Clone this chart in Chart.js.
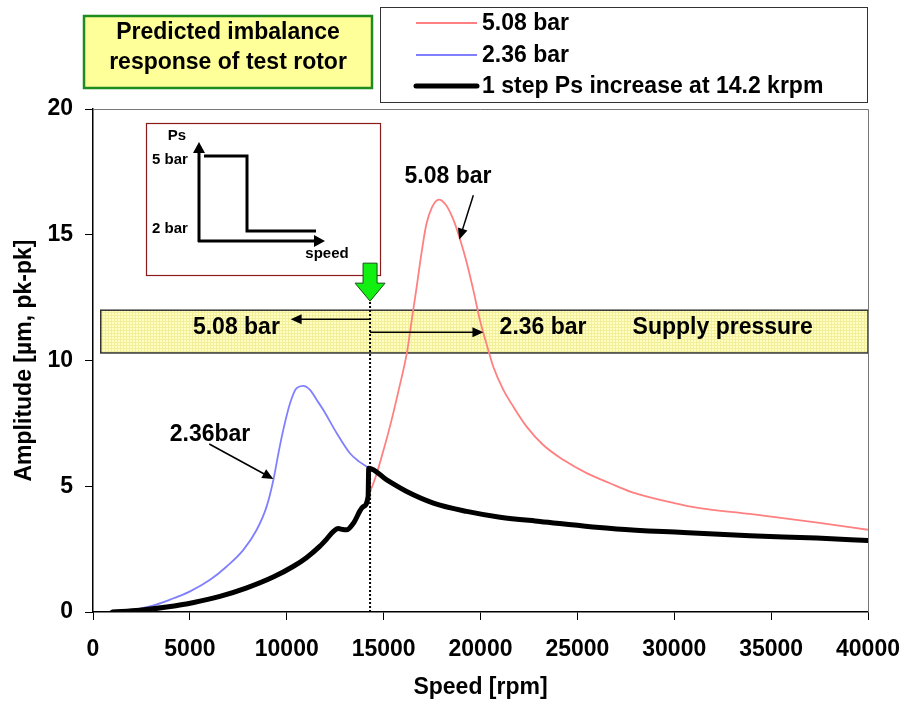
<!DOCTYPE html>
<html>
<head>
<meta charset="utf-8">
<title>Predicted imbalance response of test rotor</title>
<script src="https://cdn.jsdelivr.net/npm/chart.js@4/dist/chart.umd.min.js"></script>
<style>
    html, body { margin: 0; padding: 0; background: #fff; }
    #wrap { width: 904px; height: 704px; position: relative; }
</style>
</head>
<body>
<div id="wrap"><canvas id="rotorChart"></canvas></div>
<script>
// 5.08 bar supply pressure (red)
const redSpeed = [1000, 2400, 3800, 5200, 6550, 7900, 9300, 10350, 11000, 11700, 12060, 12400, 12660, 12900, 13090, 13440, 13950, 14200,
    14600, 15000, 15400, 15800, 16200, 16450, 16700, 16950, 17200, 17500, 17850, 18200, 18600, 18950, 19300, 19630, 19970,
    20400, 20660, 21180, 21690, 22380, 23240, 24270, 25480, 26680, 27720, 30000, 31300, 33900, 37400, 40000];
const redAmp = [0, 0.07, 0.2, 0.38, 0.62, 0.95, 1.39, 1.82, 2.15, 2.61, 2.9, 3.2, 3.32, 3.28, 3.27, 3.53, 4.19, 4.6,
    5.4, 6.45, 7.6, 8.9, 10.3, 11.6, 12.9, 14.25, 15.4, 16.1, 16.4, 16.2, 15.6, 14.8, 13.86, 12.8, 11.61,
    10.42, 9.75, 8.83, 8.17, 7.37, 6.64, 6.05, 5.52, 5.12, 4.79, 4.33, 4.13, 3.9, 3.55, 3.27];

// 2.36 bar supply pressure (blue)
const blueSpeed = [1000, 1800, 2940, 3970, 5010, 6040, 6900, 7760, 8450, 8960, 9310, 9570, 9820, 10170, 10510, 10850,
    11200, 11550, 11890, 12580, 13260, 13700, 14200, 15160, 16190, 17570, 19290, 21010, 23070, 27020, 30470, 33910, 37350, 40000];
const blueAmp = [0, 0.05, 0.22, 0.49, 0.82, 1.28, 1.81, 2.47, 3.27, 4.19, 5.25, 6.31, 7.24, 8.3, 8.9, 8.99,
    8.83, 8.43, 8.03, 7.11, 6.31, 6.0, 5.75, 5.25, 4.79, 4.33, 4.0, 3.77, 3.6, 3.3, 3.16, 3.03, 2.94, 2.84];

// 1 step Ps increase at 14.2 krpm (black)
const stepSpeed = [1000, 2400, 3800, 5200, 6550, 7900, 9300, 10350, 11000, 11700, 12060, 12400, 12660, 12900, 13090, 13440, 13950, 14200,
    14230, 15160, 16190, 17570, 19290, 21010, 23070, 27020, 30470, 33910, 37350, 40000];
const stepAmp = [0, 0.07, 0.2, 0.38, 0.62, 0.95, 1.39, 1.82, 2.15, 2.61, 2.9, 3.2, 3.32, 3.28, 3.27, 3.53, 4.19, 4.6,
    5.72, 5.25, 4.79, 4.33, 4.0, 3.77, 3.6, 3.3, 3.16, 3.03, 2.94, 2.84];

const seriesNames = ['5.08 bar', '2.36 bar', '1 step Ps increase at 14.2 krpm'];
const xTicks = [0, 5000, 10000, 15000, 20000, 25000, 30000, 35000, 40000];
const yTicks = [0, 5, 10, 15, 20];

const FONT = 'Arial, "Liberation Sans", sans-serif';
const BIG = 'bold 23px ' + FONT;

function toPoints(xs, ys) {
    return xs.map((x, i) => ({ x: x, y: ys[i] }));
}

function arrow(ctx, x1, y1, x2, y2, len, half) {
    const a = Math.atan2(y2 - y1, x2 - x1);
    ctx.beginPath();
    ctx.moveTo(x1, y1);
    ctx.lineTo(x2 - Math.cos(a) * len * 0.8, y2 - Math.sin(a) * len * 0.8);
    ctx.stroke();
    ctx.beginPath();
    ctx.moveTo(x2, y2);
    ctx.lineTo(x2 - Math.cos(a) * len - Math.sin(a) * half, y2 - Math.sin(a) * len + Math.cos(a) * half);
    ctx.lineTo(x2 - Math.cos(a) * len + Math.sin(a) * half, y2 - Math.sin(a) * len - Math.cos(a) * half);
    ctx.closePath();
    ctx.fill();
}

function bandPattern(ctx) {
    const c = document.createElement('canvas');
    c.width = 3; c.height = 3;
    const p = c.getContext('2d');
    p.fillStyle = '#ffffc4';
    p.fillRect(0, 0, 3, 3);
    p.fillStyle = '#f2ee9a';
    p.fillRect(0, 0, 3, 1);
    p.fillRect(0, 0, 1, 3);
    return ctx.createPattern(c, 'repeat');
}

// supply pressure band, drawn under the curves
const bandPlugin = {
    id: 'band',
    beforeDatasetsDraw(chart) {
        const { ctx, scales: { x, y } } = chart;
        const x0 = x.getPixelForValue(400), x1 = x.getPixelForValue(40000);
        const y0 = y.getPixelForValue(12.0), y1 = y.getPixelForValue(10.3);
        ctx.save();
        ctx.fillStyle = bandPattern(ctx);
        ctx.fillRect(x0, y0, x1 - x0, y1 - y0);
        ctx.strokeStyle = '#333';
        ctx.lineWidth = 1.5;
        ctx.strokeRect(x0, y0, x1 - x0, y1 - y0);
        ctx.restore();
    }
};

const notesPlugin = {
    id: 'notes',
    afterDraw(chart) {
        const { ctx, chartArea: area, scales: { x, y } } = chart;
        ctx.save();

        // frame top and right
        ctx.strokeStyle = '#777';
        ctx.lineWidth = 1;
        ctx.beginPath();
        ctx.moveTo(area.left, area.top + 0.5);
        ctx.lineTo(area.right + 0.5, area.top + 0.5);
        ctx.lineTo(area.right + 0.5, area.bottom);
        ctx.stroke();

        // title box
        ctx.fillStyle = '#ffff99';
        ctx.fillRect(84, 16, 288, 72);
        ctx.strokeStyle = '#1f8c1f';
        ctx.lineWidth = 2.5;
        ctx.strokeRect(84, 16, 288, 72);
        ctx.fillStyle = '#000';
        ctx.font = BIG;
        ctx.textAlign = 'center';
        ctx.textBaseline = 'middle';
        ctx.fillText('Predicted imbalance', 228, 33);
        ctx.fillText('response of test rotor', 228, 63);

        // legend box
        ctx.fillStyle = '#fff';
        ctx.fillRect(380, 7, 487, 95);
        ctx.strokeStyle = '#333';
        ctx.lineWidth = 1;
        ctx.strokeRect(380.5, 7.5, 487, 95);
        const legendColors = ['#ff8080', '#8080ff', '#000'];
        const legendWidths = [2, 2, 5];
        const legendRows = [23, 55, 86];
        seriesNames.forEach((name, i) => {
            ctx.strokeStyle = legendColors[i];
            ctx.lineWidth = legendWidths[i];
            ctx.lineCap = i === 2 ? 'round' : 'butt';
            ctx.beginPath();
            ctx.moveTo(416, legendRows[i]);
            ctx.lineTo(477, legendRows[i]);
            ctx.stroke();
            ctx.fillStyle = '#000';
            ctx.textAlign = 'left';
            ctx.fillText(name, 482, legendRows[i] + 1);
        });
        ctx.lineCap = 'butt';

        // inset: supply pressure schedule
        const ix = 146, iy = 123;
        ctx.strokeStyle = '#8b1a1a';
        ctx.lineWidth = 1.2;
        ctx.strokeRect(ix + 0.5, iy + 0.5, 234, 152);
        ctx.strokeStyle = '#000';
        ctx.fillStyle = '#000';
        ctx.lineWidth = 3;
        arrow(ctx, ix + 53, iy + 119, ix + 53, iy + 19, 11, 6);
        arrow(ctx, ix + 52, iy + 118, ix + 179, iy + 118, 11, 6);
        ctx.beginPath();
        ctx.moveTo(ix + 58, iy + 33);
        ctx.lineTo(ix + 101, iy + 33);
        ctx.lineTo(ix + 101, iy + 108);
        ctx.lineTo(ix + 170, iy + 108);
        ctx.stroke();
        ctx.font = 'bold 15px ' + FONT;
        ctx.textAlign = 'center';
        ctx.fillText('Ps', ix + 31, iy + 13);
        ctx.fillText('5 bar', ix + 24, iy + 37);
        ctx.fillText('2 bar', ix + 24, iy + 106);
        ctx.fillText('speed', ix + 181, iy + 131);

        // dotted line at the pressure step
        const xs = x.getPixelForValue(14300);
        const yTip = y.getPixelForValue(12.36);
        ctx.setLineDash([2, 2]);
        ctx.lineWidth = 2;
        ctx.beginPath();
        ctx.moveTo(xs, area.bottom);
        ctx.lineTo(xs, yTip);
        ctx.stroke();
        ctx.setLineDash([]);

        // green arrow
        ctx.fillStyle = '#11f011';
        ctx.strokeStyle = '#145214';
        ctx.lineWidth = 1;
        ctx.beginPath();
        ctx.moveTo(xs - 7, yTip - 38);
        ctx.lineTo(xs + 7, yTip - 38);
        ctx.lineTo(xs + 7, yTip - 18);
        ctx.lineTo(xs + 15, yTip - 18);
        ctx.lineTo(xs, yTip);
        ctx.lineTo(xs - 15, yTip - 18);
        ctx.lineTo(xs - 7, yTip - 18);
        ctx.closePath();
        ctx.fill();
        ctx.stroke();

        // band arrows and texts
        ctx.strokeStyle = '#000';
        ctx.fillStyle = '#000';
        ctx.lineWidth = 1.5;
        arrow(ctx, xs, y.getPixelForValue(11.64), x.getPixelForValue(10200), y.getPixelForValue(11.64), 11, 5);
        arrow(ctx, xs, y.getPixelForValue(11.12), x.getPixelForValue(20150), y.getPixelForValue(11.12), 11, 5);
        ctx.font = BIG;
        ctx.textAlign = 'center';
        ctx.fillText('5.08 bar', x.getPixelForValue(7400), y.getPixelForValue(11.3));
        ctx.fillText('2.36 bar', x.getPixelForValue(23230), y.getPixelForValue(11.3));
        ctx.fillText('Supply pressure', x.getPixelForValue(32500), y.getPixelForValue(11.3));

        // curve labels
        ctx.fillText('5.08 bar', x.getPixelForValue(18320), y.getPixelForValue(17.3));
        arrow(ctx, x.getPixelForValue(19630), y.getPixelForValue(16.57), x.getPixelForValue(18910), y.getPixelForValue(14.81), 11, 5);
        ctx.fillText('2.36bar', x.getPixelForValue(6040), y.getPixelForValue(7.07));
        arrow(ctx, x.getPixelForValue(6000), y.getPixelForValue(6.68), x.getPixelForValue(9310), y.getPixelForValue(5.29), 11, 5);

        ctx.restore();
    }
};

const ctx = document.getElementById('rotorChart').getContext('2d');
new Chart(ctx, {
    type: 'line',
    data: {
        datasets: [
            {
                label: seriesNames[2],
                data: toPoints(stepSpeed, stepAmp),
                borderColor: '#000',
                borderWidth: 5,
                borderCapStyle: 'round',
                borderJoinStyle: 'round',
                cubicInterpolationMode: 'monotone'
            },
            {
                label: seriesNames[0],
                data: toPoints(redSpeed, redAmp),
                borderColor: '#ff8080',
                borderWidth: 1.8,
                cubicInterpolationMode: 'monotone'
            },
            {
                label: seriesNames[1],
                data: toPoints(blueSpeed, blueAmp),
                borderColor: '#8080ff',
                borderWidth: 1.8,
                cubicInterpolationMode: 'monotone'
            }
        ]
    },
    options: {
        responsive: true,
        maintainAspectRatio: false,
        animation: false,
        devicePixelRatio: 1,
        elements: { point: { radius: 0 } },
        layout: { padding: { top: 109, right: 36, left: 0, bottom: 0 } },
        plugins: {
            legend: { display: false },
            tooltip: { enabled: false }
        },
        scales: {
            x: {
                type: 'linear',
                min: 0,
                max: 40000,
                afterBuildTicks: scale => { scale.ticks = xTicks.map(v => ({ value: v })); },
                afterFit: scale => {
                    scale.height = 92;
                    scale.paddingLeft = 0;
                    scale.paddingRight = 0;
                },
                grid: { drawOnChartArea: false, drawTicks: true, tickLength: 8, color: '#000' },
                border: { color: '#000', width: 1.5 },
                ticks: {
                    color: '#000',
                    padding: 16,
                    font: { family: FONT, size: 23, weight: 'bold' },
                    callback: v => String(v)
                },
                title: {
                    display: true,
                    text: 'Speed [rpm]',
                    color: '#000',
                    padding: { top: 4, bottom: 3 },
                    font: { family: FONT, size: 23, weight: 'bold' }
                }
            },
            y: {
                min: 0,
                max: 20,
                afterBuildTicks: scale => { scale.ticks = yTicks.map(v => ({ value: v })); },
                afterFit: scale => {
                    scale.width = 93;
                    scale.paddingTop = 0;
                    scale.paddingBottom = 0;
                },
                grid: { drawOnChartArea: false, drawTicks: true, tickLength: 8, color: '#000' },
                border: { color: '#000', width: 1.5 },
                ticks: {
                    color: '#000',
                    padding: 12,
                    font: { family: FONT, size: 23, weight: 'bold' },
                    callback: v => String(v)
                },
                title: {
                    display: true,
                    text: 'Amplitude [µm, pk-pk]',
                    color: '#000',
                    padding: { top: 11, bottom: 4 },
                    font: { family: FONT, size: 23, weight: 'bold' }
                }
            }
        }
    },
    plugins: [bandPlugin, notesPlugin]
});
</script>
</body>
</html>
